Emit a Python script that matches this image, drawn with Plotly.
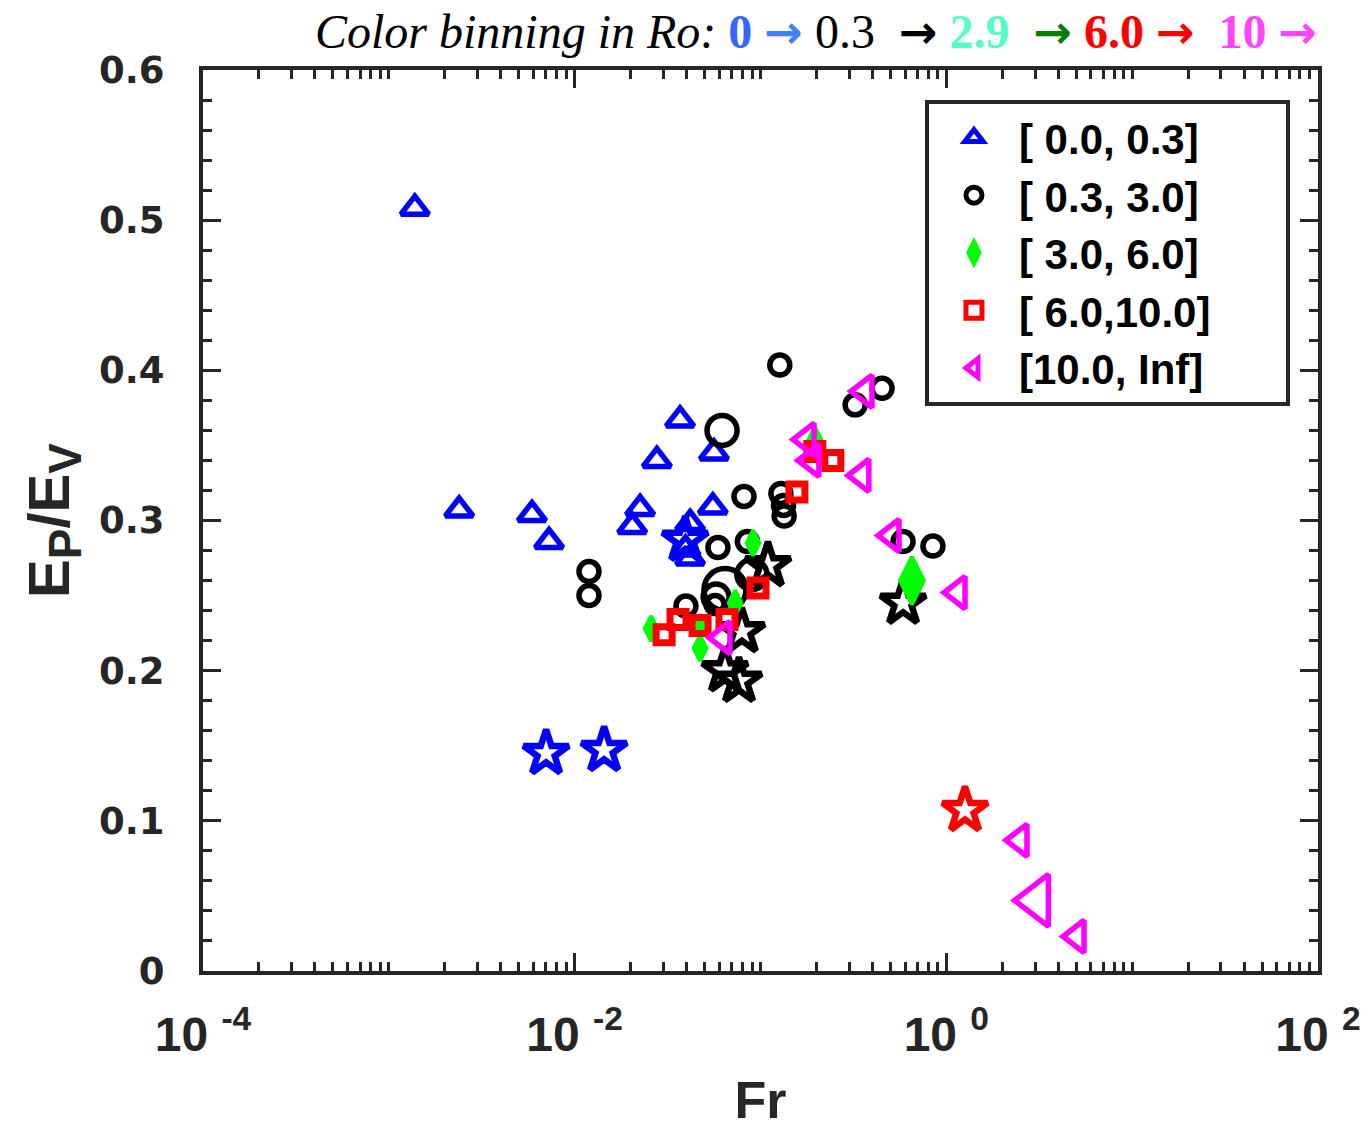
import plotly.graph_objects as go

# ---------------- data ----------------
# Ro bin [0.0, 0.3]  (blue, triangles)
blue_tri_fr = [1.38e-3, 2.39e-3, 5.89e-3, 7.28e-3, 0.0225, 0.0204, 0.0277, 0.0369,
               0.0562, 0.0554, 0.0418, 0.0395, 0.0418]
blue_tri_r = [0.508, 0.307, 0.304, 0.286, 0.308, 0.296, 0.340, 0.367,
              0.345, 0.309, 0.298, 0.281, 0.275]
# Ro bin [0.3, 3.0]  (black, circles)
blk_cir_fr = [0.01194, 0.01194, 0.127, 0.0621, 0.323, 0.451, 0.0815, 0.1288, 0.133,
              0.134, 0.059, 0.085, 0.585, 0.847, 0.0644, 0.0899, 0.0397, 0.0577, 0.057]
blk_cir_r = [0.266, 0.250, 0.4035, 0.360, 0.377, 0.388, 0.316, 0.318, 0.310,
             0.303, 0.282, 0.286, 0.286, 0.283, 0.254, 0.264, 0.243, 0.249, 0.244]
blk_cir_s = [20, 20, 20, 30, 20, 20, 20, 20, 20,
             20, 20, 20, 20, 20, 42, 30, 20, 26, 18]
# Ro bin [3.0, 6.0]  (green, diamonds)
grn_dia_fr = [0.0258, 0.0473, 0.0473, 0.073, 0.0912, 0.196, 0.653]
grn_dia_r = [0.228, 0.215, 0.229, 0.245, 0.285, 0.354, 0.260]
grn_dia_s = [18, 18, 18, 18, 18, 18, 34]
# Ro bin [6.0, 10.0]  (red, squares)
red_sq_fr = [0.0303, 0.036, 0.0473, 0.066, 0.097, 0.157, 0.196, 0.245]
red_sq_r = [0.224, 0.234, 0.230, 0.234, 0.255, 0.319, 0.346, 0.340]
# Ro bin [10.0, Inf]  (magenta, left triangles)
mag_tri_fr = [0.0628, 0.178, 0.189, 0.351, 0.365, 0.51, 1.156, 2.49, 3.08, 5.05]
mag_tri_r = [0.222, 0.354, 0.340, 0.330, 0.386, 0.290, 0.252, 0.087, 0.047, 0.023]
mag_tri_s = [28, 28, 28, 28, 28, 28, 28, 28, 45, 28]
# star-marked cases, coloured by Ro bin
blue_star_fr = [7.02e-3, 0.0144, 0.0393]
blue_star_r = [0.145, 0.147, 0.287]
blk_star_fr = [0.1096, 0.585, 0.0794, 0.0644, 0.0766]
blk_star_r = [0.270, 0.245, 0.226, 0.200, 0.193]
red_star_fr = [1.26]
red_star_r = [0.107]

PAD = "\u00a0" * 6
legend_names = ["[\u00a00.0,\u00a00.3]" + PAD, "[\u00a00.3,\u00a03.0]" + PAD,
                "[\u00a03.0,\u00a06.0]" + PAD, "[\u00a06.0,10.0]" + PAD,
                "[10.0,\u00a0Inf]" + PAD]
x_tickvals = [1e-4, 1e-2, 1e0, 1e2]
x_ticktext = ["10\u00a0<sup>-4</sup>", "10\u00a0<sup>-2</sup>", "10\u00a0<sup>0</sup>",
              "10\u00a0<sup>2</sup>"]
y_tickvals = [0, 0.1, 0.2, 0.3, 0.4, 0.5, 0.6]
y_ticktext = ["0", "0.1", "0.2", "0.3", "0.4", "0.5", "0.6"]

# ---------------- figure ----------------
AX = "#262626"
fig = go.Figure()

def stars(x, y, color):
    fig.add_trace(go.Scatter(
        x=x, y=y, mode="markers", showlegend=False,
        marker=dict(symbol="star-open", size=34, color=color, opacity=1,
                    line=dict(color=color, width=6.5))))

stars(blue_star_fr, blue_star_r, "#0000ff")
stars(blk_star_fr, blk_star_r, "#000000")
stars(red_star_fr, red_star_r, "#ff0000")

fig.add_trace(go.Scatter(
    x=blue_tri_fr, y=blue_tri_r, mode="markers", name=legend_names[0],
    marker=dict(symbol="triangle-up-open", size=24, color="#0000ff", opacity=1,
                line=dict(color="#0000ff", width=5.5))))
fig.add_trace(go.Scatter(
    x=blk_cir_fr, y=blk_cir_r, mode="markers", name=legend_names[1],
    marker=dict(symbol="circle-open", size=blk_cir_s, color="#000000", opacity=1,
                line=dict(color="#000000", width=5.5))))
fig.add_trace(go.Scatter(
    x=grn_dia_fr, y=grn_dia_r, mode="markers", name=legend_names[2],
    marker=dict(symbol="diamond-tall", size=grn_dia_s, color="#00ff00", opacity=1,
                line=dict(color="#00ff00", width=4))))
fig.add_trace(go.Scatter(
    x=red_sq_fr, y=red_sq_r, mode="markers", name=legend_names[3],
    marker=dict(symbol="square-open", size=16, color="#ff0000", opacity=1,
                line=dict(color="#ff0000", width=7))))
fig.add_trace(go.Scatter(
    x=mag_tri_fr, y=mag_tri_r, mode="markers", name=legend_names[4],
    marker=dict(symbol="triangle-left-open", size=mag_tri_s, color="#ff00ff", opacity=1,
                line=dict(color="#ff00ff", width=5.5))))

x_minor = [m * 10.0 ** e for e in range(-4, 2) for m in range(1, 10)
           if not (m == 1 and e % 2 == 0)]

fig.update_xaxes(
    type="log", range=[-4, 2], showgrid=False, zeroline=False,
    showline=True, linewidth=4, linecolor=AX, mirror="allticks",
    ticks="inside", ticklen=18, tickwidth=3, tickcolor=AX,
    tickvals=x_tickvals, ticktext=x_ticktext, ticklabelstandoff=18,
    tickfont=dict(family="Liberation Sans", size=48, color=AX, weight="bold"),
    minor=dict(tickvals=x_minor, ticks="inside", ticklen=9, tickwidth=3, tickcolor=AX,
               showgrid=False),
    title=dict(text="Fr", standoff=32,
               font=dict(family="Liberation Sans", size=52, color=AX, weight="bold")),
    automargin=False,
)
fig.update_yaxes(
    range=[0, 0.6], showgrid=False, zeroline=False,
    showline=True, linewidth=4, linecolor=AX, mirror="allticks",
    ticks="inside", ticklen=18, tickwidth=3, tickcolor=AX,
    tickvals=y_tickvals, ticktext=y_ticktext, ticklabelstandoff=27,
    tickfont=dict(family="DejaVu Sans", size=37, color=AX, weight="bold"),
    minor=dict(dtick=0.02, ticks="inside", ticklen=9, tickwidth=3, tickcolor=AX,
               showgrid=False),
    title=dict(text="E<sub><span style='font-size:46px'>P</span></sub>/E"
                    "<sub><span style='font-size:46px'>V</span></sub>",
               standoff=12,
               font=dict(family="Liberation Sans", size=58, color=AX, weight="bold")),
    automargin=False,
)

ARW = "font-family:DejaVu Sans;font-size:46px;font-weight:bold"
title_txt = (
    "<i>Color binning in Ro:</i>\u00a0"
    "<b><span style='color:#3366ff'>0</span></b>\u00a0"
    f"<span style='color:#4080ff;{ARW}'>→</span>\u00a0"
    "0.3\u00a0\u00a0"
    f"<span style='color:#000000;{ARW}'>→</span>\u00a0"
    "<b><span style='color:#55ffc4'>2.9</span></b>\u00a0\u00a0"
    f"<span style='color:#008000;{ARW}'>→</span>\u00a0"
    "<b><span style='color:#ff0000'>6.0</span></b>\u00a0"
    f"<span style='color:#ff0000;{ARW}'>→</span>\u00a0\u00a0"
    "<b><span style='color:#ff44ff'>10</span></b>\u00a0"
    f"<span style='color:#ff44ff;{ARW}'>→</span>"
)
fig.add_annotation(
    text=title_txt, xref="paper", yref="paper", x=0.55, y=1.0, yshift=9,
    xanchor="center", yanchor="bottom", showarrow=False,
    font=dict(family="Liberation Serif", size=48, color="#000000"))

fig.update_layout(
    width=1367, height=1129,
    margin=dict(l=203, r=49, t=70, b=158),
    plot_bgcolor="white", paper_bgcolor="white",
    legend=dict(
        x=0.6475, y=0.967, xanchor="left", yanchor="top",
        bgcolor="white", bordercolor=AX, borderwidth=4,
        font=dict(family="Liberation Sans", size=42, color="#000000", weight="bold"),
        itemwidth=80, tracegroupgap=0,
    ),
)

fig.write_html("out.html")
